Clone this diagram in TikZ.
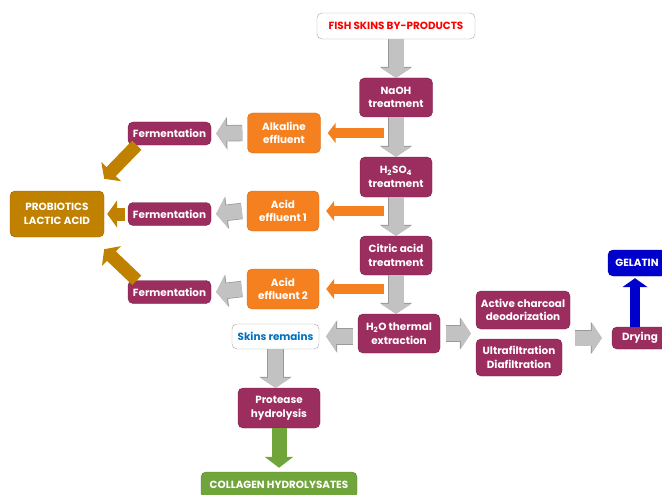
\documentclass[tikz,border=0pt]{standalone}
\usepackage{fontspec}
\setmainfont{Poppins}
\usetikzlibrary{
    arrows.meta,
    positioning
}

\definecolor{plum}{RGB}{155,45,95}
\definecolor{effl}{RGB}{245,128,32}
\definecolor{ochre}{RGB}{192,128,0}
\definecolor{leaf}{RGB}{112,165,60}
\definecolor{navy}{RGB}{0,0,205}
\definecolor{pipe}{RGB}{194,194,194}
\definecolor{skinblue}{RGB}{0,112,192}

\newcommand{\boxfont}{\fontsize{10.4}{13.5}\selectfont\bfseries}

\begin{document}
\begin{tikzpicture}[x=1pt,y=-1pt,
    stage/.style={rounded corners=5pt,draw=plum!75!black,fill=plum,text=white,
        font=\boxfont,align=center,inner sep=1pt},
    effluent/.style={stage,draw=effl!85!black,fill=effl},
    product/.style={rounded corners=5pt,draw=gray!70,fill=white,
        font=\boxfont,align=center,inner sep=1pt},
    grayarr/.style={draw=pipe,line width=15pt,-{Triangle[width=30pt,length=10pt]},
        preaction={draw=gray!80,line width=16.4pt,-{Triangle[width=32pt,length=11pt]}}},
    orangearr/.style={draw=effl,line width=10pt,-{Triangle[width=20pt,length=8pt]}},
    goldarr/.style={draw=ochre,line width=13pt,-{Triangle[width=27pt,length=10pt]}},
    greenarr/.style={draw=leaf,line width=15pt,-{Triangle[width=28pt,length=11pt]}},
    bluearr/.style={draw=navy,line width=10pt,-{Triangle[width=25pt,length=9pt]}}
]
\useasboundingbox (0,0) rectangle (662,495);

% Main line
\node[product,text=red,minimum width=158pt,minimum height=26pt] (fish) at (396,26) {FISH SKINS BY-PRODUCTS};
\node[stage,minimum width=73pt,minimum height=39pt] (naoh) at (396,97.5) {NaOH\\treatment};
\node[stage,minimum width=72pt,minimum height=40pt] (sulf) at (396,177) {H\textsubscript{2}SO\textsubscript{4}\\treatment};
\node[stage,minimum width=72pt,minimum height=39pt] (citric) at (396,255.5) {Citric acid\\treatment};
\node[stage,minimum width=82pt,minimum height=39pt] (water) at (399,333.5) {H\textsubscript{2}O thermal\\extraction};

% Effluents
\node[effluent,minimum width=73pt,minimum height=40pt] (alk) at (284,133) {Alkaline\\effluent};
\node[effluent,minimum width=72pt,minimum height=40pt] (acid1) at (283,211) {Acid\\effluent 1};
\node[effluent,minimum width=72pt,minimum height=40pt] (acid2) at (283,289) {Acid\\effluent 2};

% Fermentation
\node[stage,minimum width=83pt,minimum height=23pt] (ferm1) at (169.5,133.5) {Fermentation};
\node[stage,minimum width=83pt,minimum height=23pt] (ferm2) at (169.5,214) {Fermentation};
\node[stage,minimum width=83pt,minimum height=23pt] (ferm3) at (169.5,292) {Fermentation};
\node[stage,draw=ochre!80!black,fill=ochre,minimum width=94pt,minimum height=46pt] (prob) at (57,214) {PROBIOTICS\\LACTIC ACID};

% Skins
\node[product,text=skinblue,minimum width=87pt,minimum height=25pt] (skins) at (275.5,336.5) {Skins remains};
\node[stage,minimum width=82pt,minimum height=40pt] (prot) at (279,408) {Protease\\hydrolysis};
\node[stage,draw=leaf!80!black,fill=leaf,minimum width=156pt,minimum height=26pt] (coll) at (279,485) {COLLAGEN HYDROLYSATES};

% Gelatin
\node[stage,minimum width=94pt,minimum height=38pt] (charc) at (523,310) {Active charcoal\\deodorization};
\node[stage,minimum width=86pt,minimum height=37pt] (ultra) at (519,357.5) {Ultrafiltration\\Diafiltration};
\node[stage,minimum width=56pt,minimum height=22pt] (dry) at (640,338) {Drying};
\node[stage,draw=navy!80!black,fill=navy,minimum width=58pt,minimum height=26pt] (gel) at (637,263) {GELATIN};

% Taps on the main line
\coordinate (tap1) at ([xshift=-12pt]naoh.south |- alk.east);
\coordinate (tap2) at ([xshift=-12pt]sulf.south |- acid1.east);
\coordinate (tap3) at ([xshift=-12pt]citric.south |- acid2.east);

% Arrows
\draw[grayarr] (naoh.north |- fish.south) -- (naoh.north);
\draw[grayarr] (naoh.south) -- (sulf.north);
\draw[grayarr] (sulf.south) -- (citric.north);
\draw[grayarr] (citric.south) -- (citric.south |- water.north);

\draw[orangearr] (tap1) -- ([xshift=7pt]alk.east);
\draw[orangearr] (tap2) -- ([xshift=7pt]acid1.east);
\draw[orangearr] (tap3) -- ([xshift=7pt]acid2.east);

\draw[grayarr] ([xshift=-5pt]alk.west) -- ([xshift=5pt]ferm1.east);
\draw[grayarr] ([xshift=-5pt]acid1.west) -- ([xshift=5pt]ferm2.east);
\draw[grayarr] ([xshift=-5pt]acid2.west) -- ([xshift=5pt]ferm3.east);

\draw[goldarr] ([xshift=9pt]ferm1.south west) -- ([yshift=12pt]prob.north east);
\draw[goldarr] ([xshift=-3pt]ferm2.west) -- ([xshift=3pt]prob.east);
\draw[goldarr] ([xshift=9pt]ferm3.north west) -- ([yshift=-12pt]prob.south east);

\draw[grayarr] ([xshift=-5pt]water.west |- skins.east) -- ([xshift=7pt]skins.east);
\draw[grayarr] (skins.south) -- (skins.south |- prot.north);
\draw[greenarr] (prot.south) -- ([yshift=4pt]coll.north);

\draw[grayarr] ([xshift=6pt]water.east) -- ([xshift=-5pt]charc.west |- water.east);
\draw[grayarr] ([xshift=5pt]charc.east |- dry.west) -- ([xshift=-10pt]dry.west);
\draw[bluearr] ([xshift=-2pt]gel.south |- dry.north) -- ([xshift=-2pt,yshift=-2pt]gel.south);

\end{tikzpicture}
\end{document}
